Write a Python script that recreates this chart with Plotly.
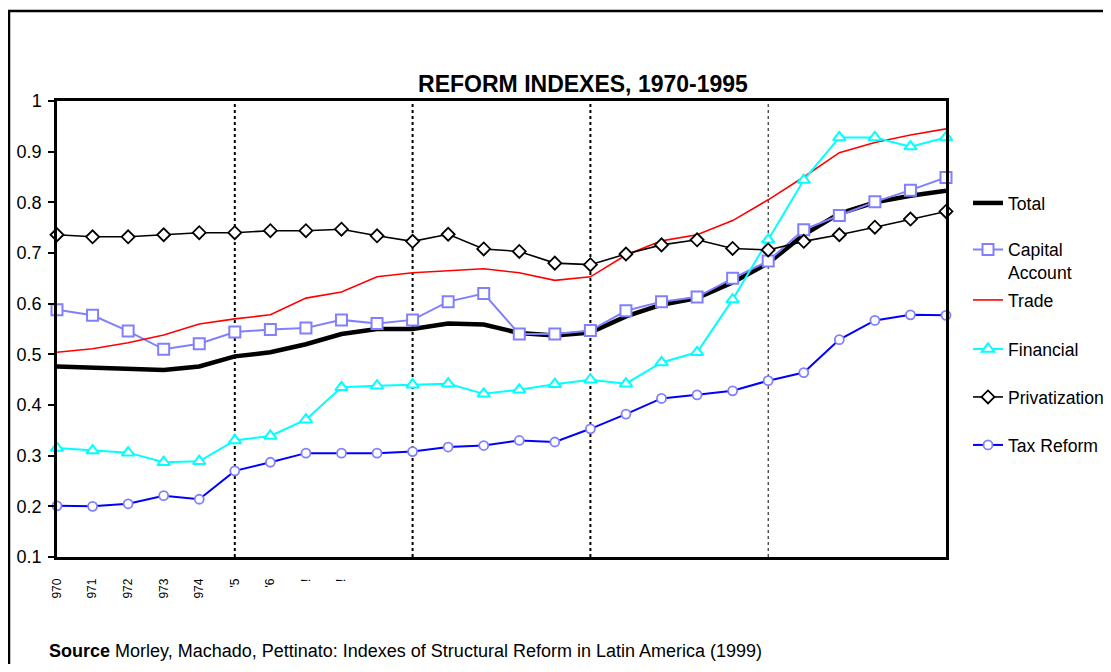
import plotly.graph_objects as go

years = list(range(1970, 1996))

total = [0.476, 0.473, 0.472, 0.469, 0.476, 0.496, 0.504, 0.520, 0.540, 0.550, 0.550, 0.561, 0.559,
         0.542, 0.537, 0.543, 0.575, 0.598, 0.611, 0.642, 0.680, 0.736, 0.778, 0.800, 0.813, 0.823]
capital_account = [0.588, 0.577, 0.546, 0.510, 0.521, 0.544, 0.549, 0.552, 0.568, 0.561, 0.568, 0.604, 0.620,
                   0.540, 0.540, 0.547, 0.586, 0.604, 0.613, 0.650, 0.684, 0.746, 0.774, 0.801, 0.824, 0.849]
trade = [0.504, 0.511, 0.523, 0.538, 0.560, 0.570, 0.578, 0.611, 0.623, 0.653, 0.661, 0.665, 0.669,
         0.661, 0.646, 0.653, 0.696, 0.724, 0.736, 0.764, 0.805, 0.850, 0.898, 0.918, 0.933, 0.945]
financial = [0.315, 0.310, 0.306, 0.287, 0.289, 0.330, 0.339, 0.371, 0.435, 0.438, 0.440, 0.442, 0.422,
             0.430, 0.441, 0.450, 0.442, 0.484, 0.504, 0.608, 0.726, 0.844, 0.928, 0.928, 0.910, 0.928]
privatization = [0.736, 0.732, 0.732, 0.736, 0.740, 0.740, 0.744, 0.744, 0.747, 0.734, 0.723, 0.737, 0.708,
                 0.703, 0.680, 0.677, 0.698, 0.716, 0.726, 0.709, 0.706, 0.723, 0.736, 0.751, 0.767, 0.782]
tax_reform = [0.201, 0.200, 0.205, 0.221, 0.214, 0.270, 0.287, 0.305, 0.305, 0.305, 0.308, 0.317, 0.320,
              0.330, 0.327, 0.353, 0.382, 0.413, 0.420, 0.428, 0.448, 0.464, 0.529, 0.567, 0.578, 0.577]

period_breaks = [1975, 1980, 1985, 1990]
xtick_years = [1970, 1971, 1972, 1973, 1974, 1975, 1976, 1977, 1978]
xtick_text = ["970", "971", "972", "973", "974", "'5", "'6", "!", "!"]
ytick_vals = [0.1, 0.2, 0.3, 0.4, 0.5, 0.6, 0.7, 0.8, 0.9, 1.0]
ytick_text = ["0.1", "0.2", "0.3", "0.4", "0.5", "0.6", "0.7", "0.8", "0.9", "1"]

FONT = "Liberation Sans, Arial, sans-serif"
OFF = 8                      # page body margin
W, H = 1111 - 2 * OFF, 672 - 2 * OFF
# plot area in page pixels
L, R, T, B = 57, 946, 101, 557


def px(v):
    return (v - L) / (R - L)


def py(v):
    return (B - v) / (B - T)


def cx(v):
    return (v - OFF) / W


def cy(v):
    return 1 - (v - OFF) / H


fig = go.Figure()

series = [
    ("Total", total, dict(color="#000000", width=4.5), None, "legend"),
    ("Capital<br>Account", capital_account, dict(color="#8080ff", width=2),
     dict(symbol="square", size=11, color="#ffffff", line=dict(width=2, color="#8080ff")), "legend2"),
    ("Trade", trade, dict(color="#ff0000", width=1.6), None, "legend3"),
    ("Financial", financial, dict(color="#00ffff", width=2),
     dict(symbol="triangle-up", size=11, color="#ffffff", line=dict(width=2, color="#00ffff")), "legend4"),
    ("Privatization", privatization, dict(color="#000000", width=1.6),
     dict(symbol="diamond", size=10, color="#ffffff", line=dict(width=1.8, color="#000000")), "legend5"),
    ("Tax Reform", tax_reform, dict(color="#0000ff", width=2),
     dict(symbol="circle", size=9, color="#ffffff", line=dict(width=1.8, color="#8080ff")), "legend6"),
]

for name, vals, line, marker, lg in series:
    kw = dict(x=years, y=vals, name=name, line=line, legend=lg, cliponaxis=False)
    if marker is None:
        kw["mode"] = "lines"
    else:
        kw["mode"] = "lines+markers"
        kw["marker"] = marker
    fig.add_trace(go.Scatter(**kw))

for i, yr in enumerate(period_breaks):
    fig.add_vline(x=yr, line=dict(color="black", width=2 if i < 3 else 1, dash="dot"), layer="below")

# outer frame
fig.add_shape(type="rect", xref="paper", yref="paper",
              x0=px(9), x1=px(1150), y0=py(700), y1=py(11),
              line=dict(color="black", width=2.5), fillcolor="rgba(0,0,0,0)")

legend_y = {"legend": 203, "legend2": 261, "legend3": 300, "legend4": 349, "legend5": 397, "legend6": 445}
legends = {}
for k, yy in legend_y.items():
    legends[k] = dict(xref="container", yref="container", x=cx(968), xanchor="left", y=cy(yy),
                      yanchor="middle", bgcolor="rgba(0,0,0,0)",
                      font=dict(family=FONT, size=17.6, color="black"),
                      valign="top" if k == "legend2" else "middle")

fig.update_layout(
    width=W, height=H,
    margin=dict(l=L - OFF, r=W - (R - OFF), t=T - OFF, b=H - (B - OFF), pad=0, autoexpand=False),
    paper_bgcolor="white", plot_bgcolor="white",
    font=dict(family=FONT, color="black"),
    title=dict(text="<b>REFORM INDEXES, 1970-1995</b>", xref="paper", x=px(583), xanchor="center",
               yref="container", y=cy(84), yanchor="middle",
               font=dict(family=FONT, size=23, color="black")),
    showlegend=True,
    **legends,
    xaxis=dict(range=[1970, 1995], showgrid=False, zeroline=False, showline=True, linecolor="black",
               linewidth=2.5, mirror=True, tickmode="array", tickvals=xtick_years, ticktext=xtick_text,
               tickangle=-90, ticks="", ticklabelstandoff=14,
               tickfont=dict(family=FONT, size=12, color="black")),
    yaxis=dict(range=[0.1, 1.0], showgrid=False, zeroline=False, showline=True, linecolor="black",
               linewidth=2.5, mirror=True, tickmode="array", tickvals=ytick_vals, ticktext=ytick_text,
               ticks="outside", ticklen=6, tickwidth=2, tickcolor="black", ticklabelstandoff=3,
               tickfont=dict(family=FONT, size=18, color="black")),
    annotations=[dict(text="<b>Source</b> Morley, Machado, Pettinato: Indexes of Structural Reform in Latin America (1999)",
                      xref="paper", yref="paper", x=px(47), y=py(651), xanchor="left", yanchor="middle",
                      showarrow=False, font=dict(family=FONT, size=18, color="black"))],
)

fig.write_html("out.html")
